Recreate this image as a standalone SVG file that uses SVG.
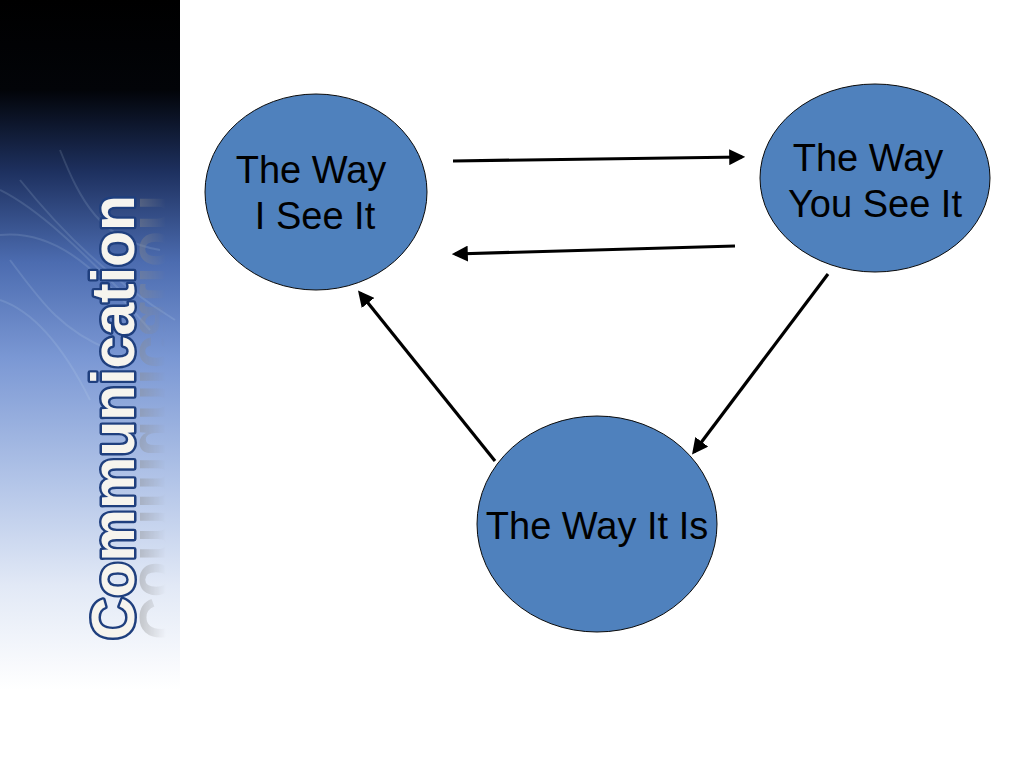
<svg xmlns="http://www.w3.org/2000/svg" width="1024" height="768" viewBox="0 0 1024 768">
  <defs>
    <linearGradient id="side" x1="0" y1="0" x2="0" y2="1">
      <stop offset="0" stop-color="#000000"/>
      <stop offset="0.13" stop-color="#020408"/>
      <stop offset="0.25" stop-color="#1e3160"/>
      <stop offset="0.38" stop-color="#4c6cb0"/>
      <stop offset="0.52" stop-color="#7b98d4"/>
      <stop offset="0.7" stop-color="#b3c5e8"/>
      <stop offset="0.85" stop-color="#e2e9f6"/>
      <stop offset="1" stop-color="#ffffff"/>
    </linearGradient>
    <linearGradient id="fade" gradientUnits="userSpaceOnUse" x1="137" y1="0" x2="166" y2="0">
      <stop offset="0" stop-color="#fff" stop-opacity="1"/>
      <stop offset="1" stop-color="#fff" stop-opacity="0"/>
    </linearGradient>
    <mask id="reflMask" maskUnits="userSpaceOnUse" x="0" y="0" width="1024" height="768">
      <rect x="137" y="180" width="30" height="480" fill="url(#fade)"/>
    </mask>
    <marker id="ah" viewBox="0 0 10 10" refX="8" refY="5" markerWidth="5" markerHeight="5" orient="auto" markerUnits="strokeWidth">
      <path d="M0,0 L10,5 L0,10 z" fill="#000"/>
    </marker>
  </defs>
  <style>
    .node { fill: #4f81bd; stroke: #0a0a0a; stroke-width: 1; }
    .lbl { font-family: "Liberation Sans", Arial, sans-serif; font-size: 38px; fill: #000; text-anchor: middle; }
    .conn { stroke: #000; stroke-width: 3.2; fill: none; marker-end: url(#ah); }
    .title { font-family: "Liberation Sans", Arial, sans-serif; font-weight: bold; font-size: 62px; }
  </style>
  <rect width="1024" height="768" fill="#ffffff"/>
  <g id="sidebar">
    <rect x="0" y="0" width="180" height="690" fill="url(#side)"/>
    <g fill="none" stroke="#cfe3f0" stroke-opacity="0.14" stroke-width="2">
      <path d="M0,190 C40,210 80,250 130,300"/>
      <path d="M0,235 C50,230 90,260 150,330"/>
      <path d="M10,260 C40,300 60,330 110,350"/>
      <path d="M0,300 C30,310 60,340 90,400"/>
      <path d="M60,150 C80,200 100,240 160,250"/>
      <path d="M20,180 C60,230 110,280 175,320"/>
    </g>
    <g mask="url(#reflMask)" opacity="0.45">
      <text class="title" transform="translate(140,640) rotate(-90) scale(1,-1)" textLength="445" lengthAdjust="spacingAndGlyphs" fill="#8a8a8a">Communication</text>
    </g>
    <text class="title" transform="translate(134,640) rotate(-90)" textLength="445" lengthAdjust="spacingAndGlyphs" fill="#f6f4ee" stroke="#1f3f7e" stroke-width="5" paint-order="stroke" stroke-linejoin="round">Communication</text>
  </g>
  <g id="connectors">
    <line class="conn" x1="453" y1="161" x2="742" y2="157"/>
    <line class="conn" x1="735" y1="246" x2="455" y2="254"/>
    <line class="conn" x1="495" y1="461" x2="360" y2="293"/>
    <line class="conn" x1="828" y1="274" x2="694" y2="452"/>
  </g>
  <g id="node-i-see">
    <ellipse class="node" cx="316" cy="192" rx="111" ry="98"/>
    <text class="lbl" x="311" y="183">The Way</text>
    <text class="lbl" x="315" y="229"> I See It</text>
  </g>
  <g id="node-you-see">
    <ellipse class="node" cx="875" cy="178" rx="115" ry="94"/>
    <text class="lbl" x="868" y="171">The Way</text>
    <text class="lbl" x="875" y="217">You See It</text>
  </g>
  <g id="node-it-is">
    <ellipse class="node" cx="597" cy="524" rx="120" ry="108"/>
    <text class="lbl" x="597" y="539">The Way It Is</text>
  </g>
</svg>
